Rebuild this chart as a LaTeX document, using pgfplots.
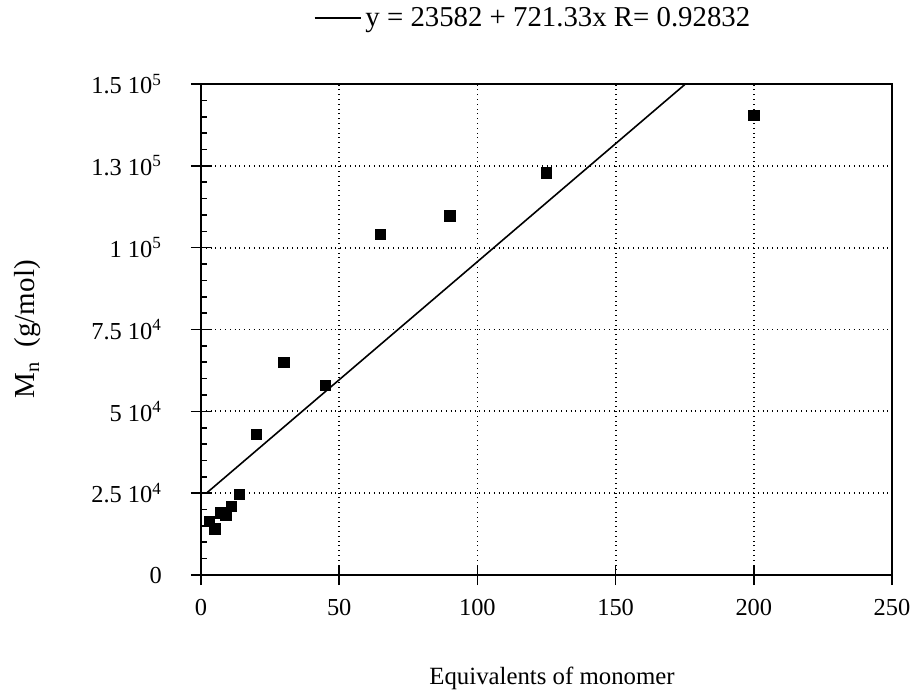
\documentclass[border=0pt]{standalone}
\usepackage{fontspec}
\setmainfont{Liberation Serif}
\usepackage{pgfplots}
\pgfplotsset{compat=1.18}
\usetikzlibrary{calc}

\begin{document}
\begin{tikzpicture}
\begin{axis}[
  scale only axis, width=345.5pt, height=245.5pt,
  xmin=0, xmax=250, ymin=0, ymax=150000,
  xtick={0,50,100,150,200,250},
  xticklabels={0,50,100,150,200,250},
  ytick={0,25000,50000,75000,100000,125000,150000},
  yticklabels={0, 2.5 10\textsuperscript{4}, 5 10\textsuperscript{4}, 7.5 10\textsuperscript{4}, 1 10\textsuperscript{5}, 1.3 10\textsuperscript{5}, 1.5 10\textsuperscript{5}},
  scaled ticks=false,
  minor y tick num=4,
  minor x tick num=0,
  xtick pos=bottom, ytick pos=left,
  tick align=center,
  major tick length=10pt,
  minor tick length=3pt,
  minor y tick style={xshift=1.5pt},
  grid=major,
  major grid style={black, dotted, line width=0.9pt},
  axis line style={line width=0.8pt},
  tick style={black, line width=0.8pt},
  tick label style={font=\fontsize{12.2}{13}\selectfont},
  yticklabel style={xshift=-11pt},
  xticklabel style={yshift=-3.5pt},
  legend style={draw=none, fill=none, at={(0.482,1.134)}, anchor=center,
    font=\fontsize{14.4}{16}\selectfont},
  legend image code/.code={\draw[line width=0.8pt] (0pt,0pt) -- (23pt,0pt);},
]
\addplot[black, line width=0.8pt] coordinates {(2,25025) (175.26,150000)};
\addlegendentry{y = 23582 + 721.33x R= 0.92832}
\addplot[only marks, mark=square*, mark size=2.6pt, black, forget plot] coordinates {
  (3,16300) (5,14100) (7,19000) (9,18300) (11,20900) (14,24700)
  (20,42900) (30,65000) (45,57900) (65,104100) (90,109700)
  (125,122800) (200,140400)
};
\coordinate (sw) at (rel axis cs:0,0);
\coordinate (ne) at (rel axis cs:1,1);
\end{axis}
\node[font=\fontsize{12.4}{15}\selectfont, anchor=center] at ($(sw)!0.508!(sw -| ne)+(0,-51.5pt)$) {Equivalents of monomer};
\node[font=\fontsize{14.5}{16}\selectfont, rotate=90, anchor=center] at ($(sw)!0.5!(sw |- ne)+(-86.5pt,0)$) {M\textsubscript{n}\ \ (g/mol)};
\pgfresetboundingbox
\path[use as bounding box] ($(sw)+(-100.5pt,-58.5pt)$) rectangle ($(ne)+(11.5pt,42pt)$);
\end{tikzpicture}
\end{document}
